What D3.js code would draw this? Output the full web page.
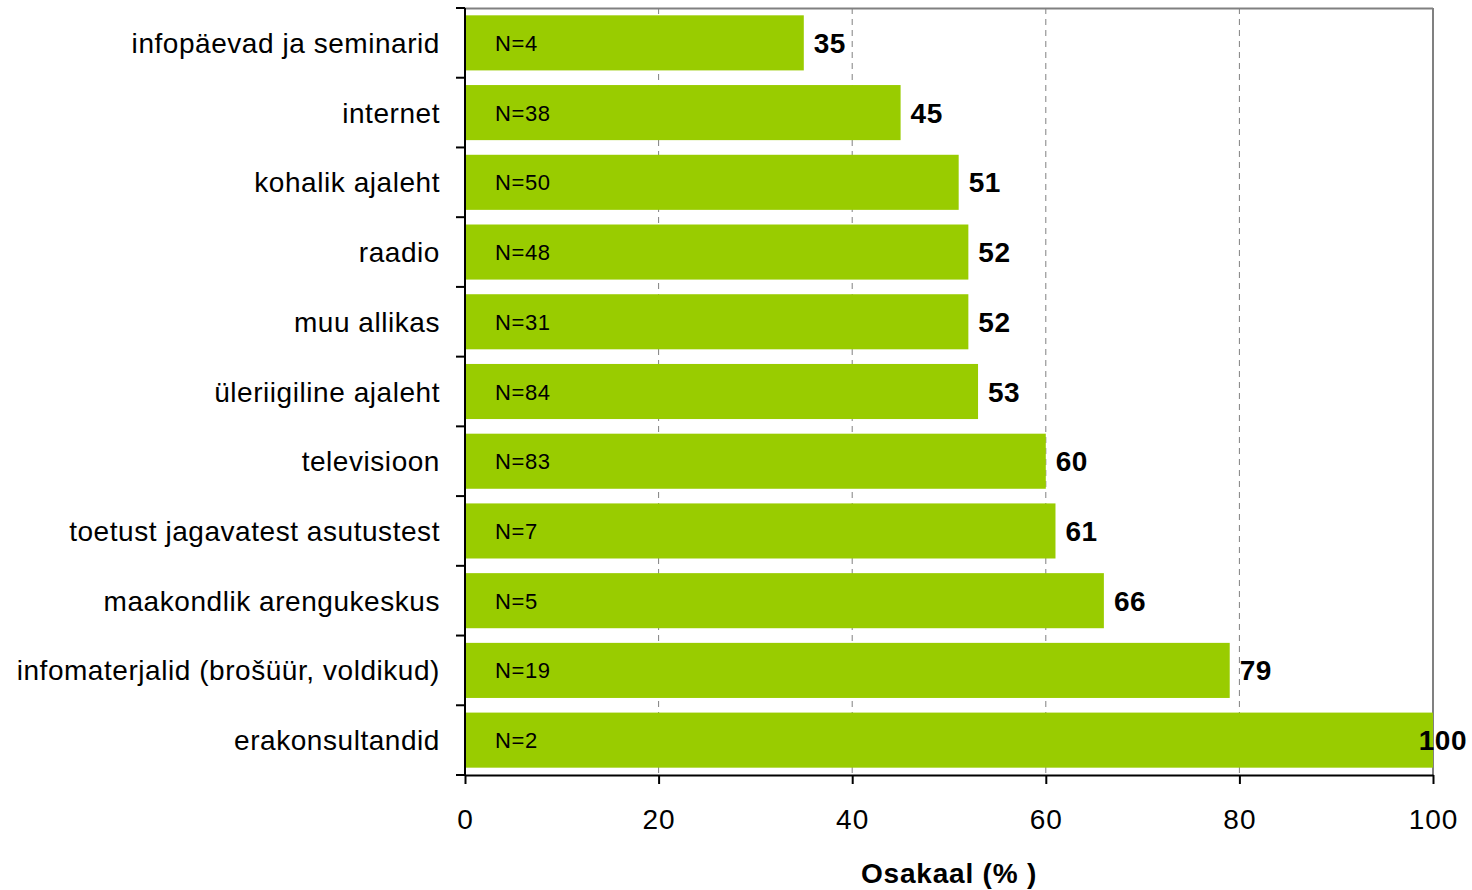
<!DOCTYPE html>
<html><head><meta charset="utf-8">
<script src="https://cdn.jsdelivr.net/npm/d3@7"></script>
<style>body{margin:0;background:#fff}svg{display:block}text{font-family:"Liberation Sans",Arial,sans-serif}</style>
</head><body>
<script>
const categories = ["infopäevad ja seminarid","internet","kohalik ajaleht","raadio","muu allikas","üleriigiline ajaleht","televisioon","toetust jagavatest asutustest","maakondlik arengukeskus","infomaterjalid (brošüür, voldikud)","erakonsultandid"];
const values = [35,45,51,52,52,53,60,61,66,79,100];
const nLabels = ["N=4","N=38","N=50","N=48","N=31","N=84","N=83","N=7","N=5","N=19","N=2"];
const xTicks = [0,20,40,60,80,100];
const xTitle = "Osakaal (% )";

const W=1472,H=890;
const m={left:465,right:39,top:8,bottom:115};
const svg=d3.select("body").append("svg").attr("width",W).attr("height",H);
const x=d3.scaleLinear().domain([0,100]).range([m.left,W-m.right]);
const y=d3.scaleBand().domain(categories).range([m.top,H-m.bottom]).paddingInner(0.21).paddingOuter(0.105);

// grid
svg.append("g").selectAll("line").data(xTicks.filter(d=>d>0&&d<100)).join("line")
 .attr("x1",d=>x(d)).attr("x2",d=>x(d)).attr("y1",m.top).attr("y2",H-m.bottom)
 .attr("stroke","#808080").attr("stroke-width",1).attr("stroke-dasharray","6,5");
// frame top & right
svg.append("line").attr("x1",x(0)).attr("x2",x(100)).attr("y1",m.top+0.5).attr("y2",m.top+0.5).attr("stroke","#808080").attr("stroke-width",2);
svg.append("line").attr("x1",x(100)).attr("x2",x(100)).attr("y1",m.top).attr("y2",H-m.bottom).attr("stroke","#808080").attr("stroke-width",2);

// bars
svg.append("g").selectAll("rect").data(values).join("rect")
 .attr("x",x(0)).attr("y",(d,i)=>y(categories[i])).attr("width",d=>x(d)-x(0)).attr("height",y.bandwidth())
 .attr("fill","#99cc00");

// N labels
svg.append("g").selectAll("text").data(nLabels).join("text")
 .attr("x",x(0)+30).attr("y",(d,i)=>y(categories[i])+y.bandwidth()/2+8)
 .attr("font-size",22).attr("letter-spacing",0.6).attr("fill","#000").text(d=>d);

// value labels
svg.append("g").selectAll("text").data(values).join("text")
 .attr("x",d=>d>=100?x(d)+34:x(d)+10).attr("text-anchor",d=>d>=100?"end":"start")
 .attr("y",(d,i)=>y(categories[i])+y.bandwidth()/2+10)
 .attr("font-size",28).attr("letter-spacing",0.5).attr("font-weight","bold").attr("fill","#000").text(d=>d);

// y axis
const yAxis=svg.append("g").attr("transform",`translate(${x(0)},0)`);
yAxis.append("line").attr("x1",0).attr("x2",0).attr("y1",m.top).attr("y2",H-m.bottom).attr("stroke","#000").attr("stroke-width",2);
const bounds=d3.range(categories.length+1).map(i=>m.top+i*(H-m.bottom-m.top)/categories.length);
yAxis.selectAll("line.t").data(bounds).join("line").attr("class","t")
 .attr("x1",-9).attr("x2",0).attr("y1",d=>d).attr("y2",d=>d).attr("stroke","#000").attr("stroke-width",2);
yAxis.selectAll("text").data(categories).join("text")
 .attr("x",-25).attr("y",d=>y(d)+y.bandwidth()/2+10).attr("text-anchor","end")
 .attr("font-size",28).attr("letter-spacing",0.55).attr("fill","#000").text(d=>d);

// x axis
const xAxis=svg.append("g").attr("transform",`translate(0,${H-m.bottom})`)
 .call(d3.axisBottom(x).tickValues(xTicks).tickSize(9).tickSizeOuter(0).tickPadding(25));
xAxis.select(".domain").attr("stroke","#000").attr("stroke-width",2);
xAxis.selectAll(".tick line").attr("stroke","#000").attr("stroke-width",2);
xAxis.selectAll(".tick text").attr("font-size",28).attr("letter-spacing",1).attr("fill","#000").attr("font-family","Liberation Sans, Arial, sans-serif");

svg.append("text").attr("x",949).attr("y",883).attr("text-anchor","middle")
 .attr("font-size",28).attr("letter-spacing",0.8).attr("font-weight","bold").attr("fill","#000").text(xTitle);
</script>
</body></html>
